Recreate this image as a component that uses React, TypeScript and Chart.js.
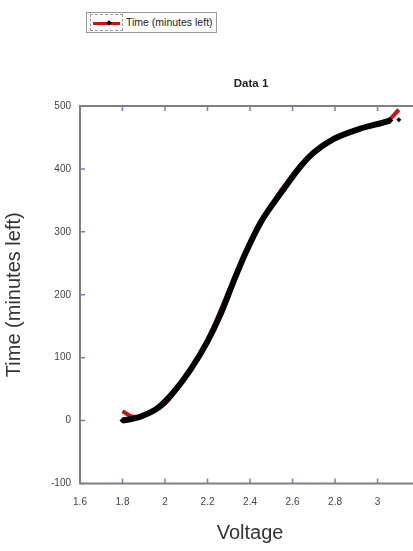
import React, { useEffect, useRef } from "react";
import { Chart, registerables } from "chart.js";

Chart.register(...registerables);

// Black data markers (Voltage, Time)
const dataVoltage = [1.8, 1.85, 1.89, 1.97, 2.04, 2.12, 2.2, 2.26, 2.32, 2.38, 2.45, 2.55, 2.64, 2.7, 2.79, 2.91, 3.03, 3.06];
const dataTime = [0, 3, 7, 21, 45, 81, 126, 168, 219, 267, 315, 364, 405, 426, 447, 463, 474, 477];
// Separate last marker
const outlierVoltage = [3.1];
const outlierTime = [478];
// Red smoothed line
const lineVoltage = [1.8, 1.85, 1.9, 2.0, 2.1, 2.2, 2.3, 2.4, 2.5, 2.6, 2.7, 2.8, 2.9, 3.0, 3.05, 3.1];
const lineTime = [15, 6, 8, 27, 72, 128, 206, 283, 343, 390, 427, 449, 462, 472, 477, 494];

const xMin = 1.6, xMax = 3.2, xStep = 0.2;
const yMin = -100, yMax = 500, yStep = 100;

const FONT = "Arial, 'Liberation Sans', sans-serif";

const framePlugin = {
  id: "frame",
  beforeDatasetsDraw(chart: any) {
    const { ctx, chartArea } = chart;
    const { left, right, top, bottom } = chartArea;
    const xs = chart.scales.x;
    const ys = chart.scales.y;
    ctx.save();
    ctx.strokeStyle = "#7a7ac8";
    ctx.lineWidth = 1.5;
    ctx.beginPath();
    xs.ticks.forEach((t: any) => {
      const px = xs.getPixelForValue(t.value);
      ctx.moveTo(px, bottom);
      ctx.lineTo(px, bottom - 5);
      ctx.moveTo(px, top);
      ctx.lineTo(px, top + 5);
    });
    ys.ticks.forEach((t: any) => {
      const py = ys.getPixelForValue(t.value);
      ctx.moveTo(left, py);
      ctx.lineTo(left + 5, py);
      ctx.moveTo(right, py);
      ctx.lineTo(right - 5, py);
    });
    ctx.stroke();
    ctx.strokeStyle = "#808080";
    ctx.lineWidth = 2;
    ctx.strokeRect(left, top, right - left, bottom - top);
    ctx.fillStyle = "#222";
    ctx.font = `bold 11.5px ${FONT}`;
    ctx.textAlign = "center";
    ctx.textBaseline = "middle";
    ctx.fillText("Data 1", (left + right) / 2 + 1, 84);
    ctx.restore();
  },
};

export default function App() {
  const ref = useRef<HTMLCanvasElement>(null);
  useEffect(() => {
    if (!ref.current) return;
    const chart = new Chart(ref.current, {
      type: "scatter",
      data: {
        datasets: [
          {
            label: "Time (minutes left)",
            data: dataVoltage.map((v, i) => ({ x: v, y: dataTime[i] })),
            showLine: true,
            borderColor: "#000",
            borderWidth: 6,
            backgroundColor: "#000",
            pointStyle: "rectRot",
            pointRadius: 3,
            pointBorderWidth: 0,
            cubicInterpolationMode: "monotone",
            order: 1,
          },
          {
            label: "outlier",
            data: outlierVoltage.map((v, i) => ({ x: v, y: outlierTime[i] })),
            showLine: false,
            backgroundColor: "#000",
            borderColor: "#000",
            pointStyle: "rectRot",
            pointRadius: 2.5,
            pointBorderWidth: 0,
            order: 1,
          },
          {
            label: "fit",
            data: lineVoltage.map((v, i) => ({ x: v, y: lineTime[i] })),
            showLine: true,
            borderColor: "#d01010",
            borderWidth: 4,
            pointRadius: 0,
            cubicInterpolationMode: "monotone",
            order: 2,
          },
        ],
      },
      options: {
        animation: false,
        responsive: false,
        devicePixelRatio: 1,
        layout: { padding: { left: 0, right: 10.4, top: 106, bottom: 0 } },
        plugins: { legend: { display: false }, title: { display: false }, tooltip: { enabled: false } },
        scales: {
          x: {
            type: "linear",
            min: xMin,
            max: xMax,
            grid: { display: false, drawTicks: false, tickLength: 0 },
            border: { display: false },
            ticks: {
              stepSize: xStep,
              padding: 13,
              color: "#444",
              font: { family: FONT, size: 10 },
              callback: (v: any) => String(Number(Number(v).toFixed(1))),
            },
            title: {
              display: true,
              text: "Voltage",
              color: "#333",
              font: { family: FONT, size: 20 },
              padding: { top: 0, bottom: 6 },
            },
            afterFit: (s: any) => { s.height = 67.5; },
          },
          y: {
            type: "linear",
            min: yMin,
            max: yMax,
            grid: { display: false, drawTicks: false, tickLength: 0 },
            border: { display: false },
            ticks: {
              stepSize: yStep,
              padding: 9,
              color: "#444",
              font: { family: FONT, size: 10 },
            },
            title: {
              display: true,
              text: "Time (minutes left)",
              color: "#333",
              font: { family: FONT, size: 20 },
              padding: { top: 2, bottom: 0 },
            },
            afterFit: (s: any) => { s.width = 80; },
          },
        },
      },
      plugins: [framePlugin],
    });
    return () => chart.destroy();
  }, []);

  return (
    <div style={{ position: "absolute", left: 0, top: 0, width: 413, height: 551, overflow: "hidden", background: "#fff" }}>
      <canvas ref={ref} width={440} height={551} style={{ position: "absolute", left: 0, top: 0, width: 440, height: 551 }} />
      <div
        style={{
          position: "absolute", left: 86, top: 12, width: 131, height: 21,
          border: "1px solid #999", boxSizing: "border-box", background: "#fff",
          fontFamily: FONT, fontSize: 10.5, color: "#222",
        }}
      >
        <div style={{ position: "absolute", left: 3, top: 1, width: 33, height: 17, border: "1px dashed #999", boxSizing: "border-box" }}>
          <div style={{ position: "absolute", left: 2, top: 6.5, width: 27, height: 3, background: "#d01010" }} />
          <div style={{ position: "absolute", left: 16, top: 5.5, width: 4, height: 4, background: "#000", transform: "rotate(45deg)" }} />
        </div>
        <div style={{ position: "absolute", left: 39, top: 3, lineHeight: "13px", whiteSpace: "nowrap" }}>Time (minutes left)</div>
      </div>
    </div>
  );
}
